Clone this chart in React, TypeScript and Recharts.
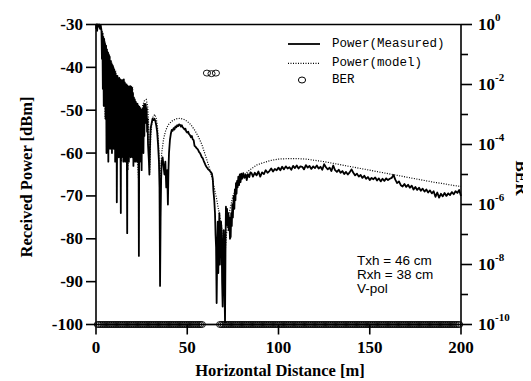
import React from "react";
import { ComposedChart, Line, Scatter, XAxis, YAxis, ReferenceLine } from "recharts";

// ---------- data ----------
const distanceTicks = [0, 50, 100, 150, 200];
const powerTicks = [-100, -90, -80, -70, -60, -50, -40, -30];
const berTicks = [1, 1e-1, 1e-2, 1e-3, 1e-4, 1e-5, 1e-6, 1e-7, 1e-8, 1e-9, 1e-10];

// measured received power [m, dBm]
const measured: [number, number][] = [
  [0, -31], [0.3, -30], [0.6, -31.5], [1, -30], [1.4, -30.5], [1.8, -30], [2.2, -31], [2.6, -30.2], [3, -31.5],
  [3.25, -38], [3.5, -32], [3.75, -45], [4, -33], [4.25, -49], [4.5, -33.5], [4.75, -43], [5, -34.5],
  [5.25, -52], [5.5, -35], [5.75, -60], [6, -36], [6.25, -55], [6.5, -36.5], [6.75, -62], [7, -37],
  [7.25, -52], [7.5, -37.5], [7.75, -59], [8, -38.5], [8.25, -54], [8.5, -39], [8.75, -60], [9, -39.5],
  [9.25, -55], [9.5, -40], [9.75, -59], [10, -40.5], [10.25, -56], [10.4, -41], [10.5, -62], [10.75, -41.5],
  [11, -57], [11.25, -42], [11.4, -71.5], [11.75, -42], [12, -60], [12.25, -42.5], [12.5, -61], [12.75, -42.5],
  [13, -58], [13.25, -42.8], [13.6, -74], [13.75, -43], [14, -61], [14.25, -43], [14.5, -57], [14.75, -43],
  [15, -62], [15.25, -42.8], [15.5, -58], [15.75, -43.5], [16, -62], [16.25, -44], [16.5, -57], [16.75, -44],
  [17.1, -78.7], [17.25, -44.3], [17.5, -60], [17.75, -44.5], [18, -62], [18.25, -44.5], [18.5, -59], [18.75, -44.4],
  [19, -61], [19.25, -44.5], [19.5, -58], [19.75, -45], [20, -61], [20.25, -46], [20.5, -63], [20.75, -47],
  [21, -60], [21.25, -47.5], [21.5, -62], [21.75, -48], [22, -61], [22.25, -48.4], [22.5, -62], [22.75, -48.5],
  [23, -61], [23.25, -49], [23.5, -84], [23.75, -49.2], [24, -62], [24.25, -49.5], [24.5, -59], [24.75, -50],
  [25, -64], [25.25, -49.8], [25.5, -57], [25.75, -49.5], [26, -60], [26.25, -48.8], [26.5, -56], [26.75, -48.5],
  [27, -53], [27.25, -48.6], [27.5, -51], [27.75, -49.5], [28, -55], [28.25, -52], [28.5, -58], [28.75, -60],
  [29, -62], [29.25, -65], [29.5, -60], [29.75, -56], [30, -54], [30.5, -53], [31, -52], [31.5, -52.3],
  [32, -52], [32.5, -52.5], [33, -53.5], [33.5, -55], [34, -58], [34.5, -62], [34.8, -68], [35.1, -91],
  [35.4, -75], [35.7, -66], [36, -62], [36.5, -61], [37, -63], [37.5, -65], [38, -62], [38.5, -68],
  [39, -64], [39.4, -72], [39.7, -64], [40, -60], [40.5, -57], [41, -55.5], [41.5, -54.6], [42, -54.8],
  [42.5, -54.2], [43, -54.5], [43.5, -53.8], [44, -54], [44.5, -53.5], [45, -53.7], [45.5, -53.3], [46, -53.4],
  [46.5, -53.8], [47, -53.5], [47.5, -54], [48, -54.2], [48.5, -54.5], [49, -54.3], [49.5, -55], [50, -55.2],
  [50.5, -55], [51, -55.6], [51.5, -55.8], [52, -56.3], [52.5, -56], [53, -56.8], [53.5, -57], [54, -58.3],
  [54.5, -58.5], [55, -58.8], [55.5, -59], [56, -59.3], [56.5, -59.8], [57, -60], [57.5, -60.5], [58, -61],
  [58.5, -61.2], [59, -61.8], [59.5, -62.3], [60, -62.8], [60.5, -63.2], [61, -63.5], [61.5, -63.8], [62, -64],
  [62.5, -64.2], [63, -64.5], [63.5, -64.8], [64, -66], [64.3, -68.6], [64.8, -71], [65.2, -74], [65.5, -79],
  [65.8, -82], [66.1, -95], [66.4, -84], [66.7, -76], [67, -88], [67.3, -80], [67.6, -74], [67.9, -86],
  [68.2, -78], [68.5, -76], [68.8, -78], [69.1, -90], [69.4, -95.8], [69.7, -82], [70, -78], [70.4, -92],
  [70.7, -99.5], [71, -80], [71.2, -72.5], [71.5, -76], [71.8, -73], [72.1, -77], [72.5, -74], [72.8, -78],
  [73.1, -75], [73.4, -80], [73.8, -79.5], [74.1, -74], [74.4, -77], [74.7, -72], [75, -75], [75.2, -72.5],
  [75.5, -70], [75.8, -73], [76.1, -68.5], [76.4, -71], [76.7, -67], [77, -69.5], [77.3, -66.5], [77.6, -68],
  [78, -65.5], [78.4, -67.5], [78.8, -65], [79.2, -66.8], [79.6, -64.8], [80, -66], [80.7, -64.7], [81.3, -65.8],
  [82, -65], [82.6, -66.3], [83.2, -64.9], [84, -65.6], [84.6, -64.5], [85.3, -64.7], [86, -65.5], [87, -64.6],
  [88, -65.2], [89, -64.3], [90, -65.5], [91, -64.5], [92, -64.9], [93, -64], [94, -64.6], [95, -64.2],
  [96, -63.6], [97, -64.3], [98, -63.7], [99, -64], [100, -63.4], [101, -64], [102, -63.2], [103, -63.8],
  [104, -63.1], [105, -63.6], [106, -63.3], [107, -63.9], [108, -63], [109, -63.5], [110, -62.9], [111, -63.6],
  [112, -63.1], [113, -63.2], [114, -63.8], [115, -62.8], [116, -63.4], [117, -63], [118, -63.7], [119, -63.1],
  [120, -63.5], [121, -62.9], [122, -63.6], [123, -63.2], [124, -63.9], [125, -62.6], [126, -63.3], [127, -63.8],
  [128, -63.4], [129, -64.2], [130, -62.9], [131, -64], [132, -64.4], [133, -63.9], [134, -64.6], [135, -64.2],
  [136, -64.9], [137, -64.4], [138, -65], [139, -64.5], [140, -63.8], [141, -64.6], [142, -65.2], [143, -64.8],
  [144, -65.5], [145, -65.1], [146, -65.8], [147, -65.3], [148, -66], [149, -65.6], [150, -66.3], [151, -65.8],
  [152, -66.1], [153, -65.7], [154, -66.4], [155, -65.9], [156, -66.6], [157, -66], [158, -66.5], [159, -65.9],
  [160, -66.3], [161, -66], [162, -65.8], [163, -65.1], [164, -66.2], [165, -67], [166, -66.6], [167, -67.5],
  [168, -67.8], [169, -67.2], [170, -67.9], [171, -67.4], [172, -68.1], [173, -67.6], [174, -68.5], [175, -67.9],
  [176, -68.6], [177, -68.1], [178, -68.8], [179, -68.3], [180, -69], [181, -68.5], [182, -69.2], [183, -68.7],
  [184, -69.4], [185, -68.9], [186, -70.2], [187, -69.2], [188, -70.4], [189, -69.5], [190, -70.1], [191, -69.3],
  [192, -70], [193, -69.4], [194, -69.8], [195, -69.1], [196, -69.6], [197, -68.9], [198, -69.3], [199, -68.6],
  [200, -70],
];

// two-ray model [m, dBm]
const model: [number, number][] = [
  [0, -30], [1, -30], [2, -30.2], [3, -31], [4, -32.5], [4.6, -33.5], [5.0, -52], [5.19, -34], [5.38, -52],
  [5.6, -34.8], [5.83, -53], [6.1, -35.5], [6.36, -54], [6.68, -36.3], [7.0, -55], [7.39, -37.2], [7.78, -56],
  [8.27, -38.3], [8.75, -57], [9.38, -39.5], [10, -58], [10.8, -40.8], [11.67, -60], [12.8, -42.2], [14, -62],
  [15.6, -43.5], [17.5, -64], [20, -44.5], [23.3, -66], [24, -56], [24.7, -51.5], [25.5, -49], [26.5, -47.8],
  [27.5, -47.5], [28.3, -49], [28.8, -53], [29.4, -65], [30, -56], [30.6, -53], [31.3, -51.5], [32.2, -51],
  [33, -51.8], [33.7, -54], [34.3, -58], [34.8, -64], [35.1, -72], [35.5, -64], [36, -60], [37, -56.8],
  [38, -55], [39, -53.9], [40, -53.2], [42, -52.4], [44, -52], [46, -51.9], [48, -52.1], [50, -52.6],
  [52, -53.4], [54, -54.6], [56, -56.1], [58, -58], [60, -60.6], [62, -63.3], [64, -66.5], [66, -70.5],
  [67.5, -74], [68.8, -77], [69.8, -85], [70.6, -84], [71.5, -79], [73, -74], [75, -70], [78, -67],
  [81, -65.2], [84, -64], [88, -62.8], [92, -62.2], [96, -61.7], [100, -61.4], [105, -61.3], [110, -61.3],
  [115, -61.4], [120, -61.7], [125, -62], [130, -62.4], [135, -62.8], [140, -63.2], [145, -63.6], [150, -64],
  [155, -64.4], [160, -64.8], [165, -65.2], [170, -65.6], [175, -66], [180, -66.4], [185, -66.8], [190, -67.1],
  [195, -67.5], [200, -67.8],
];

// BER at the error floor (10^-10) measured at these distances [m]
const berFloorDistances = [
  1, 2, 3, 4, 5, 6, 7, 8, 9, 10, 11, 12, 13, 14, 15, 16, 17, 18, 19, 20, 21, 22, 23, 24, 25, 26, 27, 28, 29,
  30, 31, 32, 33, 34, 35, 36, 37, 38, 39, 40, 41, 42, 43, 44, 45, 46, 47, 48, 49, 50, 51, 52, 53, 54, 55, 56,
  57, 58, 68, 69, 70, 71, 72, 73, 74, 75, 76, 77, 78, 79, 80, 81, 82, 83, 84, 85, 86, 87, 88, 89, 90, 91, 92,
  93, 94, 95, 96, 97, 98, 99, 100, 101, 102, 103, 104, 105, 106, 107, 108, 109, 110, 111, 112, 113, 114, 115,
  116, 117, 118, 119, 120, 121, 122, 123, 124, 125, 126, 127, 128, 129, 130, 131, 132, 133, 134, 135, 136, 137,
  138, 139, 140, 141, 142, 143, 144, 145, 146, 147, 148, 149, 150, 151, 152, 153, 154, 155, 156, 157, 158, 159,
  160, 161, 162, 163, 164, 165, 166, 167, 168, 169, 170, 171, 172, 173, 174, 175, 176, 177, 178, 179, 180, 181,
  182, 183, 184, 185, 186, 187, 188, 189, 190, 191, 192, 193, 194, 195, 196, 197, 198, 199,
];
const BER_FLOOR = 1e-10;
// BER in the deep fade
const berFade: [number, number][] = [
  [60.8, 0.024], [63.3, 0.023], [65.7, 0.024],
];
// measured power sitting on the -100 dBm floor
const floorSegment: [number, number][] = [[58.8, -100], [67.8, -100]];

// ---------- derived tables ----------
const measuredData = measured.map(([x, p]) => ({ x, p }));
const modelData = model.map(([x, p]) => ({ x, p }));
const floorData = floorSegment.map(([x, p]) => ({ x, p }));
const berData = [
  ...berFloorDistances.map((x) => ({ x, ber: BER_FLOOR })),
  ...berFade.map(([x, ber]) => ({ x, ber })),
];

const SERIF = '"Liberation Serif", "Times New Roman", serif';
const MONO = '"Liberation Mono", "Courier New", monospace';
const SANS = '"Liberation Sans", Arial, sans-serif';
const AXIS = { stroke: "#000", strokeWidth: 1.6 };

const LeftTick = (props: any) => {
  const { x, y, payload } = props;
  return (
    <g>
      <line x1={x - 10} x2={x} y1={y} y2={y} stroke="#000" strokeWidth={1.6} />
      <text x={x - 13} y={y} textAnchor="end" dominantBaseline="central" fontFamily={SERIF} fontWeight="bold" fontSize={17} fill="#000">
        {payload.value}
      </text>
    </g>
  );
};

const BottomTick = (props: any) => {
  const { x, y, payload } = props;
  return (
    <g>
      <line x1={x} x2={x} y1={y} y2={y + 10} stroke="#000" strokeWidth={1.6} />
      <text x={x} y={y + 23} textAnchor="middle" dominantBaseline="central" fontFamily={SERIF} fontWeight="bold" fontSize={17} fill="#000">
        {payload.value}
      </text>
    </g>
  );
};

const RightTick = (props: any) => {
  const { x, y, payload } = props;
  const e = Math.round(Math.log10(payload.value));
  const major = e % 2 === 0;
  return (
    <g>
      <line x1={x} x2={x + (major ? 11 : 7)} y1={y} y2={y} stroke="#000" strokeWidth={1.6} />
      {major && (
        <text x={x + 17} y={y} dominantBaseline="central" fontFamily={SERIF} fontWeight="bold" fontSize={17} fill="#000">
          10
          <tspan fontSize={11} dy={-8}>{String(e)}</tspan>
        </text>
      )}
    </g>
  );
};

const Overlay = () => (
  <g>
    <text x={272} y={368} textAnchor="middle" fontFamily={SERIF} fontWeight="bold" fontSize={16.5} fill="#000">
      Horizontal Distance  [m]
    </text>
    <text x={18} y={169} transform="rotate(-90 18 169)" textAnchor="middle" dominantBaseline="central" fontFamily={SERIF} fontWeight="bold" fontSize={16.5} fill="#000">
      Received Power  [dBm]
    </text>
    <text x={513} y={170} transform="rotate(90 513 170)" textAnchor="middle" dominantBaseline="central" fontFamily={SERIF} fontWeight="bold" fontSize={17} fill="#000">
      BER
    </text>
    <g fontFamily={SANS} fontSize={13.5} fill="#000">
      <text x={349} y={257}>Txh = 46 cm</text>
      <text x={349} y={270.5}>Rxh = 38 cm</text>
      <text x={349} y={285}>V-pol</text>
    </g>
    <g fontFamily={MONO} fontSize={12.5} fill="#000">
      <line x1={280} x2={312} y1={36} y2={36} stroke="#000" strokeWidth={1.8} />
      <text x={324} y={36} dominantBaseline="central">Power(Measured)</text>
      <line x1={280} x2={312} y1={55.3} y2={55.3} stroke="#000" strokeWidth={1.2} strokeDasharray="1 1.5" />
      <text x={324} y={55.3} dominantBaseline="central">Power(model)</text>
      <ellipse cx={294} cy={72} rx={3.6} ry={3} fill="none" stroke="#000" strokeWidth={1} />
      <text x={324} y={72} dominantBaseline="central">BER</text>
    </g>
  </g>
);

const BerShape = (props: any) => {
  const { cx, cy } = props;
  if (cx == null || cy == null) return <g />;
  return <ellipse cx={cx} cy={cy} rx={3.6} ry={3} fill="none" stroke="#000" strokeWidth={0.9} />;
};

export default function App() {
  return (
    <div style={{ width: 523, height: 373, background: "#fff" }}>
      <ComposedChart width={523} height={373} margin={{ top: 16.5, right: 0, left: 0, bottom: 0 }}>
        <XAxis
          dataKey="x"
          type="number"
          domain={[0, 200]}
          ticks={distanceTicks}
          interval={0}
          height={56.5}
          tickSize={0}
          tickMargin={0}
          tickLine={false}
          axisLine={AXIS}
          tick={BottomTick}
          label={() => <Overlay />}
        />
        <YAxis
          yAxisId="left"
          type="number"
          domain={[-100, -30]}
          ticks={powerTicks}
          interval={0}
          width={88}
          tickSize={0}
          tickMargin={0}
          tickLine={false}
          axisLine={AXIS}
          tick={LeftTick}
        />
        <YAxis
          yAxisId="ber"
          orientation="right"
          dataKey="ber"
          type="number"
          scale="log"
          domain={[1e-10, 1]}
          ticks={berTicks}
          interval={0}
          width={70}
          tickSize={0}
          tickMargin={0}
          tickLine={false}
          axisLine={AXIS}
          tick={RightTick}
        />
        <ReferenceLine yAxisId="left" y={-30} stroke="#000" strokeWidth={1.6} />
        <Line
          yAxisId="left"
          data={modelData}
          dataKey="p"
          type="linear"
          dot={false}
          stroke="#000"
          strokeWidth={1.2}
          strokeDasharray="1 1.5"
          isAnimationActive={false}
        />
        <Line
          yAxisId="left"
          data={measuredData}
          dataKey="p"
          type="linear"
          dot={false}
          stroke="#000"
          strokeWidth={1.8}
          strokeLinejoin="round"
          isAnimationActive={false}
        />
        <Line
          yAxisId="left"
          data={floorData}
          dataKey="p"
          type="linear"
          dot={false}
          stroke="#000"
          strokeWidth={1.3}
          isAnimationActive={false}
        />
        <Scatter yAxisId="ber" data={berData} dataKey="ber" shape={BerShape} isAnimationActive={false} />
      </ComposedChart>
    </div>
  );
}
